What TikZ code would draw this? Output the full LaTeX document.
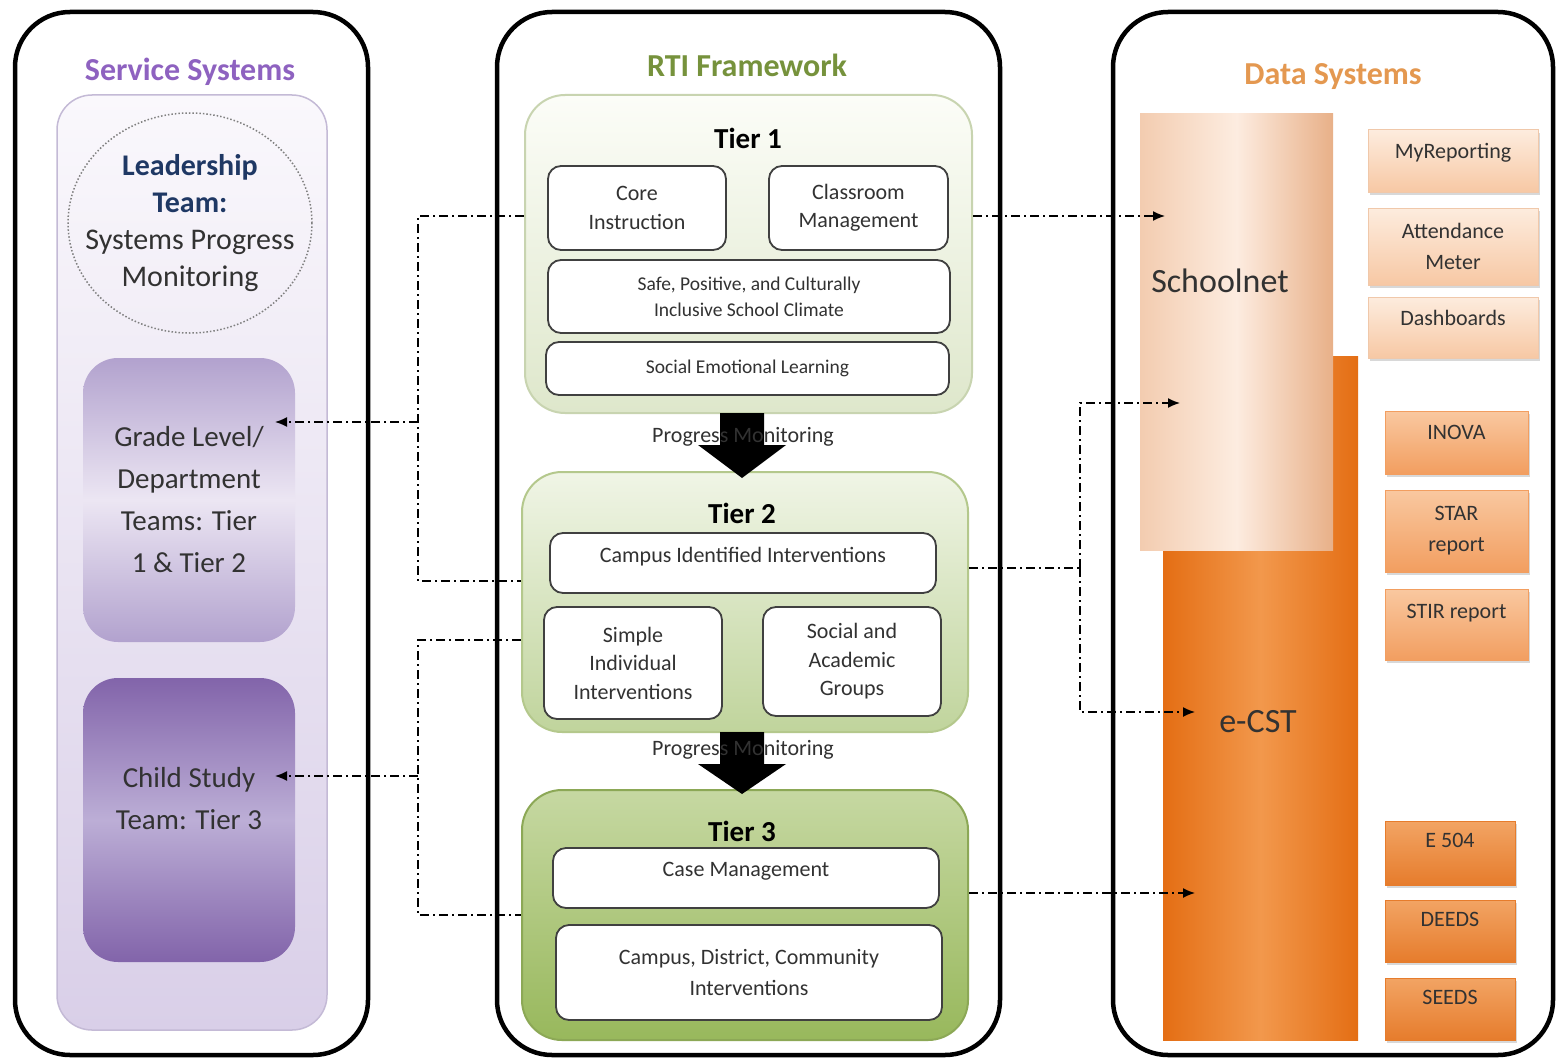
\documentclass[tikz,border=0pt]{standalone}
\usepackage{fontspec}
\setmainfont{Carlito}
\usetikzlibrary{positioning,arrows.meta,shadows,shapes.geometric}

\definecolor{svcpurple}{RGB}{142,98,192}
\definecolor{leadblue}{RGB}{31,56,100}
\definecolor{rtigreen}{RGB}{118,146,60}
\definecolor{dataorange}{RGB}{228,152,80}
\definecolor{txtgray}{RGB}{50,50,50}
\definecolor{lavtop}{RGB}{250,248,252}
\definecolor{lavbot}{RGB}{217,207,232}
\definecolor{lavline}{RGB}{196,186,214}
\definecolor{gradeedge}{RGB}{178,162,206}
\definecolor{grademid}{RGB}{236,230,243}
\definecolor{childedge}{RGB}{130,100,170}
\definecolor{childmid}{RGB}{188,174,214}
\definecolor{tieronetop}{RGB}{252,253,248}
\definecolor{tieronebot}{RGB}{222,231,203}
\definecolor{tieroneline}{RGB}{200,212,176}
\definecolor{tiertwotop}{RGB}{240,245,230}
\definecolor{tiertwobot}{RGB}{192,212,156}
\definecolor{tiertwoline}{RGB}{180,200,140}
\definecolor{tierthreetop}{RGB}{198,216,162}
\definecolor{tierthreebot}{RGB}{152,184,92}
\definecolor{tierthreeline}{RGB}{140,168,86}
\definecolor{snleft}{RGB}{243,204,176}
\definecolor{snmid}{RGB}{253,236,224}
\definecolor{snright}{RGB}{232,176,136}
\definecolor{ecstdark}{RGB}{228,110,20}
\definecolor{ecstlight}{RGB}{242,152,76}
\definecolor{peachtop}{RGB}{253,236,222}
\definecolor{peachbot}{RGB}{247,200,164}
\definecolor{peachline}{RGB}{240,200,170}
\definecolor{apricottop}{RGB}{249,200,160}
\definecolor{apricotbot}{RGB}{242,158,96}
\definecolor{ambertop}{RGB}{242,164,100}
\definecolor{amberbot}{RGB}{230,124,44}

\begin{document}
\begin{tikzpicture}[x=1pt, y=-1pt,
  colbox/.style = {draw, line width=4.5pt, rounded corners=55pt, inner sep=0pt},
  coltitle/.style = {font=\bfseries\fontsize{32}{38}\selectfont},
  lavpanel/.style = {draw=lavline, line width=1.5pt, rounded corners=35pt, top color=lavtop, bottom color=lavbot},
  team/.style = {rounded corners=35pt, minimum width=212pt, minimum height=284pt},
  teamtext/.style = {align=center, text=txtgray, font=\fontsize{29}{42}\selectfont},
  tier/.style = {line width=2pt, rounded corners=40pt, minimum width=446pt},
  tiertitle/.style = {font=\bfseries\fontsize{29}{34}\selectfont},
  inbox/.style = {draw=black!75, line width=1.8pt, fill=white, rounded corners=13pt, align=center, text=txtgray, font=\fontsize{22}{28.5}\selectfont},
  smallinbox/.style = {inbox, font=\fontsize{19.5}{26}\selectfont},
  pmtext/.style = {text=txtgray, font=\fontsize{22}{26}\selectfont},
  bigtext/.style = {text=txtgray, font=\fontsize{34}{40}\selectfont},
  report/.style = {draw=peachline, line width=1pt, align=center, text=txtgray, font=\fontsize{22}{31}\selectfont, drop shadow={opacity=0.3, shadow xshift=2pt, shadow yshift=-3pt}},
  uptext/.style = {text depth=#1},
  link/.style = {line width=1.5pt, dash pattern=on 9pt off 4pt on 2pt off 4pt},
  linkarrow/.style = {link, -{Latex[length=12pt,width=10pt]}}]

\useasboundingbox (0,0) rectangle (1557,1062);
\fill[white] (0,0) rectangle (1557,1062);

% Service Systems
\node[colbox, minimum width=353pt, minimum height=1043pt] (svc) at (191.5,533.5) {};
\node[coltitle, text=svcpurple] (svctitle) at (190,72) {Service Systems};
\node[lavpanel, minimum width=270pt, minimum height=935pt] (svcpanel) at (192,562.5) {};
\node[draw=gray, dotted, line width=1.5pt, ellipse, inner sep=0pt, minimum width=244pt, minimum height=220pt] (leader) at (190,223) {};
\node[align=center, text=txtgray, font=\fontsize{30}{37}\selectfont] (leadertext) at (190,223)
  {{\bfseries\color{leadblue}Leadership}\\{\bfseries\color{leadblue}Team:}\\Systems Progress\\Monitoring};
\node[team, teamtext, top color=gradeedge, bottom color=gradeedge, middle color=grademid] (grade) at (189,500) {Grade Level/\\Department\\Teams: Tier\\1 \& Tier 2};
\node[team, top color=childedge, bottom color=childedge, middle color=childmid] (child) at (189,820) {};
\node[teamtext] (childtext) at (189,799) {Child Study\\Team: Tier 3};

% RTI Framework
\node[colbox, minimum width=503pt, minimum height=1043pt] (rti) at (748.5,533.5) {};
\node[coltitle, text=rtigreen] (rtititle) at (747,65) {RTI Framework};

\node[tier, draw=tieroneline, top color=tieronetop, bottom color=tieronebot, minimum width=447pt, minimum height=318pt] (tier1) at (748.5,254) {};
\node[tiertitle] (tier1title) at (748,138) {Tier 1};
\node[inbox, minimum width=178pt, minimum height=84pt] (core) at (637,208) {Core\\Instruction};
\node[inbox, minimum width=179pt, minimum height=84pt] (classroom) at (858.5,208) {Classroom\\Management};
\node[smallinbox, minimum width=402pt, minimum height=73pt] (climate) at (749,296.5) {Safe, Positive, and Culturally\\Inclusive School Climate};
\node[smallinbox, minimum width=403pt, minimum height=53pt] (sel) at (747.5,368.5) {Social Emotional Learning};

\node[tier, draw=tiertwoline, top color=tiertwotop, bottom color=tiertwobot, minimum height=260pt] (tier2) at (745,602) {};
\node[tiertitle] (tier2title) at (742,513) {Tier 2};
\node[inbox, uptext=17pt, minimum width=386pt, minimum height=60pt] (campus) at (743,563) {Campus Identified Interventions};
\node[inbox, minimum width=178pt, minimum height=112pt] (simple) at (633,663) {Simple\\Individual\\Interventions};
\node[inbox, minimum width=178pt, minimum height=109pt] (groups) at (852,661.5) {Social and\\Academic\\Groups};

\node[tier, draw=tierthreeline, top color=tierthreetop, bottom color=tierthreebot, minimum height=250pt] (tier3) at (745,915) {};
\node[tiertitle] (tier3title) at (742,831) {Tier 3};
\node[inbox, uptext=17pt, minimum width=386pt, minimum height=60pt] (casemgmt) at (746,878) {Case Management};
\node[inbox, font=\fontsize{22}{31}\selectfont, minimum width=386pt, minimum height=95pt] (community) at (749,972.5) {Campus, District, Community\\Interventions};

% progress monitoring arrows
\coordinate (pm1) at (742,413);
\coordinate (pm2) at (742,732);
\fill (pm1) ++(-22,0) -- ++(0,32) -- ++(-22,0) -- ++(44,33) -- ++(44,-33) -- ++(-22,0) -- ++(0,-32) -- cycle;
\fill (pm2) ++(-22,0) -- ++(0,32) -- ++(-22,0) -- ++(44,30) -- ++(44,-30) -- ++(-22,0) -- ++(0,-32) -- cycle;
\node[pmtext] (pm1text) at (743,437) {Progress Monitoring};
\node[pmtext] (pm2text) at (743,750) {Progress Monitoring};

% Data Systems
\node[colbox, minimum width=440pt, minimum height=1043pt] (data) at (1333,533.5) {};
\node[coltitle, text=dataorange] (datatitle) at (1333,77) {Data Systems};
\node[left color=ecstdark, right color=ecstdark, middle color=ecstlight, minimum width=195pt, minimum height=684pt, inner sep=0pt] (ecst) at (1260.5,698) {};
\node[left color=snleft, right color=snright, middle color=snmid, minimum width=193pt, minimum height=436pt, inner sep=0pt] (schoolnet) at (1236.5,332) {};
\node[bigtext] (sntext) at (1220,281) {Schoolnet};
\node[bigtext] (ecsttext) at (1258,722) {e-CST};

\node[report, top color=peachtop, bottom color=peachbot, uptext=20pt, minimum width=170pt, minimum height=62pt] (myrep) at (1453,161) {MyReporting};
\node[report, top color=peachtop, bottom color=peachbot, minimum width=170pt, minimum height=77pt] (attend) at (1453,246.5) {Attendance\\Meter};
\node[report, top color=peachtop, bottom color=peachbot, uptext=20pt, minimum width=170pt, minimum height=61pt] (dash) at (1453,327.5) {Dashboards};
\node[report, top color=apricottop, bottom color=apricotbot, draw=apricotbot, uptext=21pt, minimum width=143pt, minimum height=63pt] (inova) at (1456.5,442.5) {INOVA};
\node[report, top color=apricottop, bottom color=apricotbot, draw=apricotbot, minimum width=143pt, minimum height=82pt] (star) at (1456.5,531) {STAR\\report};
\node[report, top color=apricottop, bottom color=apricotbot, draw=apricotbot, uptext=26pt, minimum width=143pt, minimum height=71pt] (stir) at (1456.5,624.5) {STIR report};
\node[report, top color=ambertop, bottom color=amberbot, draw=amberbot, uptext=26pt, minimum width=130pt, minimum height=64pt] (e504) at (1450,853) {E 504};
\node[report, top color=ambertop, bottom color=amberbot, draw=amberbot, uptext=24pt, minimum width=130pt, minimum height=62pt] (deeds) at (1450,931) {DEEDS};
\node[report, top color=ambertop, bottom color=amberbot, draw=amberbot, uptext=24pt, minimum width=130pt, minimum height=62pt] (seeds) at (1450,1009) {SEEDS};

% connectors to service teams
\coordinate (lonetop) at (418,216);
\coordinate (lonebot) at (418,581);
\coordinate (lonemid) at (418,422);
\coordinate (gradetip) at (275,422);
\coordinate (ltwotop) at (418,640);
\coordinate (ltwobot) at (418,915);
\coordinate (ltwomid) at (418,776);
\coordinate (childtip) at (275,776);
\draw[link] (tier1.west |- lonetop) -- (lonetop) -- (lonebot) -- (tier2.west |- lonebot);
\draw[linkarrow] (lonemid) -- (gradetip);
\draw[link] (tier2.west |- ltwotop) -- (ltwotop) -- (ltwobot) -- (tier3.west |- ltwobot);
\draw[linkarrow] (ltwomid) -- (childtip);

% connectors to data systems
\coordinate (sntip) at (1165,216);
\coordinate (rtwomid) at (1080,568);
\coordinate (sntiptwo) at (1180,403);
\coordinate (ecsttip) at (1195,712);
\coordinate (ecsttiptwo) at (1195,893);
\draw[linkarrow] (tier1.east |- sntip) -- (sntip);
\draw[link] (tier2.east |- rtwomid) -- (rtwomid);
\draw[linkarrow] (rtwomid) |- (sntiptwo);
\draw[linkarrow] (rtwomid) |- (ecsttip);
\draw[linkarrow] (tier3.east |- ecsttiptwo) -- (ecsttiptwo);
\end{tikzpicture}
\end{document}
